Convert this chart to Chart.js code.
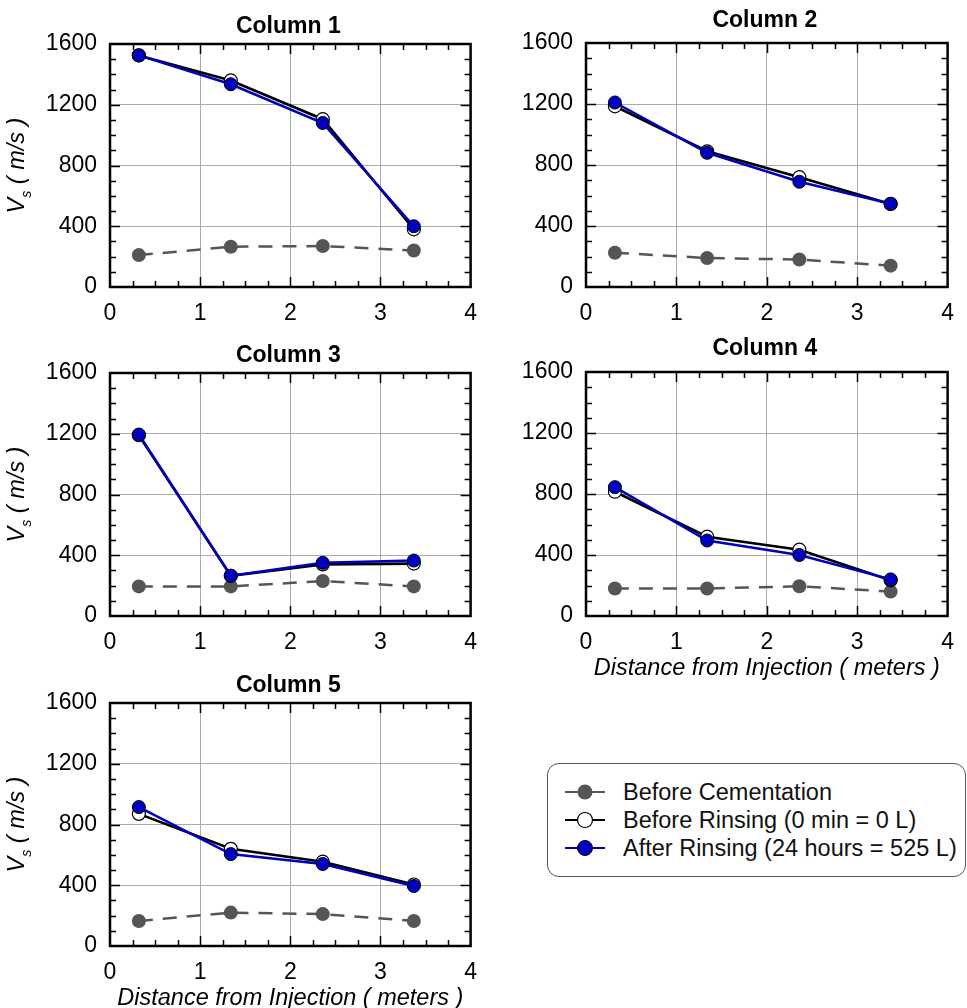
<!DOCTYPE html>
<html>
<head>
<meta charset="utf-8">
<script src="https://cdn.jsdelivr.net/npm/chart.js@4.4.1/dist/chart.umd.min.js"></script>
<style>
  body { margin: 0; background: #fff; width: 967px; height: 1008px; position: relative; overflow: hidden;
         font-family: "Liberation Sans", Arial, sans-serif; }
  canvas { position: absolute; }
  #legend { position: absolute; left: 547px; top: 763px; width: 419px; height: 114px;
            border: 1.5px solid #555; border-radius: 12px; box-sizing: border-box; }
  .row { position: absolute; left: 0; height: 28px; display: flex; align-items: center;
         font-size: 23.5px; color: #111; white-space: nowrap; }
  .row svg { margin-left: 17px; margin-right: 18px; }
</style>
</head>
<body>

<div id="legend">
  <div class="row" style="top:14px">
    <svg width="40" height="18"><line x1="0" y1="9" x2="40" y2="9" stroke="#555" stroke-width="2"/><circle cx="20" cy="9" r="7.5" fill="#555"/></svg>
    Before Cementation
  </div>
  <div class="row" style="top:42px">
    <svg width="40" height="18"><line x1="0" y1="9" x2="40" y2="9" stroke="#000" stroke-width="2"/><circle cx="20" cy="9" r="7.5" fill="#fff" stroke="#000" stroke-width="1.2"/></svg>
    Before Rinsing (0 min = 0 L)
  </div>
  <div class="row" style="top:70px">
    <svg width="40" height="18"><line x1="0" y1="9" x2="40" y2="9" stroke="#0000c0" stroke-width="2"/><circle cx="20" cy="9" r="7.5" fill="#0000c0" stroke="#000" stroke-width="1"/></svg>
    After Rinsing (24 hours = 525 L)
  </div>
</div>

<script>
// data
const columns = ['Column 1', 'Column 2', 'Column 3', 'Column 4', 'Column 5'];
const distance = [0.32, 1.34, 2.36, 3.37];   // meters from injection
const beforeCementation = [
  [210, 265, 270, 240],
  [225, 190, 180, 140],
  [195, 195, 230, 195],
  [180, 180, 195, 160],
  [165, 220, 210, 165],
];
const beforeRinsing = [
  [1525, 1360, 1105, 380],
  [1185, 890, 720, 545],
  [1190, 265, 340, 345],
  [815, 520, 435, 235],
  [870, 640, 555, 405],
];
const afterRinsing = [
  [1525, 1335, 1080, 400],
  [1210, 880, 690, 545],
  [1195, 265, 350, 365],
  [845, 495, 400, 240],
  [915, 605, 540, 395],
];

const FONT = '"Liberation Sans", Arial, sans-serif';
const BLUE = '#0000c0';

// canvas boxes and wanted plot areas (page px)
const boxes = [
  { left: 0,   top: 0,   w: 490, h: 330, L: 110, T: 44,  R: 476, B: 287, titleGap: 17, ylabel: true,  xlabel: false },
  { left: 480, top: 0,   w: 487, h: 330, L: 586, T: 43,  R: 951, B: 287, titleGap: 22, ylabel: false, xlabel: false },
  { left: 0,   top: 330, w: 490, h: 330, L: 110, T: 373, R: 476, B: 616, titleGap: 17, ylabel: true,  xlabel: false },
  { left: 480, top: 330, w: 487, h: 360, L: 586, T: 372, R: 951, B: 616, titleGap: 23, ylabel: false, xlabel: true },
  { left: 0,   top: 660, w: 490, h: 348, L: 110, T: 703, R: 476, B: 946, titleGap: 17, ylabel: true,  xlabel: true },
];

// inward ticks, frame, titles and axis labels
const decor = {
  id: 'decor',
  beforeDatasetsDraw(chart, args, opts) {
    const ctx = chart.ctx;
    const { left, right, top, bottom } = chart.chartArea;
    const xs = chart.scales.x, ys = chart.scales.y;
    ctx.save();
    ctx.strokeStyle = '#000';
    ctx.lineWidth = 1.5;
    ctx.beginPath();
    for (let k = 1; k < 16; k++) {
      const px = Math.round(xs.getPixelForValue(k * 0.25)) + 0.5;
      const len = k % 4 === 0 ? 10 : 6;
      ctx.moveTo(px, bottom); ctx.lineTo(px, bottom - len);
      ctx.moveTo(px, top); ctx.lineTo(px, top + len);
    }
    for (let k = 1; k < 16; k++) {
      const py = Math.round(ys.getPixelForValue(k * 100)) + 0.5;
      const len = k % 4 === 0 ? 10 : 6;
      ctx.moveTo(left, py); ctx.lineTo(left + len, py);
      ctx.moveTo(right, py); ctx.lineTo(right - len, py);
    }
    ctx.stroke();
    ctx.lineWidth = 2.5;
    ctx.strokeRect(left, top, right - left, bottom - top);
    ctx.restore();
  },
  afterDraw(chart, args, opts) {
    const ctx = chart.ctx;
    const { left, right, top, bottom } = chart.chartArea;
    ctx.save();
    ctx.fillStyle = '#000';
    ctx.textAlign = 'center';
    ctx.textBaseline = 'middle';
    ctx.font = 'bold 23px ' + FONT;
    ctx.fillText(opts.title, (left + right) / 2 - 2, top - opts.titleGap);

    if (opts.xlabel) {
      ctx.font = 'italic 23.5px ' + FONT;
      ctx.fillText('Distance from Injection ( meters )', (left + right) / 2, bottom + 52);
    }
    if (opts.ylabel) {
      ctx.translate(left - 86, (top + bottom) / 2);
      ctx.rotate(-Math.PI / 2);
      ctx.textAlign = 'left';
      ctx.textBaseline = 'alphabetic';
      const big = 'italic 23.5px ' + FONT, small = 'italic 14px ' + FONT;
      ctx.font = big;  const wV = ctx.measureText('V').width;
      const rest = ' ( m/s )', wR = ctx.measureText(rest).width;
      ctx.font = small; const wS = ctx.measureText('s').width;
      let x = -(wV + wS + wR) / 2;
      ctx.font = big;   ctx.fillText('V', x, 0); x += wV;
      ctx.font = small; ctx.fillText('s', x, 7); x += wS;
      ctx.font = big;   ctx.fillText(rest, x, 0);
    }
    ctx.restore();
  }
};

function makeChart(i) {
  const box = boxes[i];
  const canvas = document.createElement('canvas');
  canvas.width = box.w; canvas.height = box.h;
  canvas.style.left = box.left + 'px'; canvas.style.top = box.top + 'px';
  canvas.style.width = box.w + 'px'; canvas.style.height = box.h + 'px';
  document.body.appendChild(canvas);

  const pts = arr => distance.map((x, k) => ({ x, y: arr[k] }));

  new Chart(canvas, {
    type: 'line',
    data: {
      datasets: [
        {
          label: 'After Rinsing (24 hours = 525 L)', data: pts(afterRinsing[i]), order: 0,
          borderColor: BLUE, borderWidth: 2.5, backgroundColor: BLUE,
          pointRadius: 6.5, pointBorderColor: '#000', pointBorderWidth: 1, pointBackgroundColor: BLUE,
        },
        {
          label: 'Before Rinsing (0 min = 0 L)', data: pts(beforeRinsing[i]), order: 1,
          borderColor: '#000', borderWidth: 2.6, backgroundColor: '#fff',
          pointRadius: 6.5, pointBorderColor: '#000', pointBorderWidth: 1.2, pointBackgroundColor: '#fff',
        },
        {
          label: 'Before Cementation', data: pts(beforeCementation[i]), order: 2,
          borderColor: '#555', borderWidth: 2.5, borderDash: [14, 10], backgroundColor: '#555',
          pointRadius: 7, pointBorderWidth: 0, pointBackgroundColor: '#555',
        },
      ]
    },
    options: {
      responsive: false,
      animation: false,
      devicePixelRatio: 1,
      layout: { padding: { top: box.T - box.top, right: box.left + box.w - box.R, left: 0, bottom: 0 } },
      plugins: {
        legend: { display: false },
        tooltip: { enabled: false },
        decor: { title: columns[i], titleGap: box.titleGap, ylabel: box.ylabel, xlabel: box.xlabel },
      },
      scales: {
        x: {
          type: 'linear', min: 0, max: 4,
          ticks: { stepSize: 1, color: '#000', padding: 13, font: { family: FONT, size: 23 },
                   callback: v => String(v) },
          grid: { color: '#ababab', lineWidth: 1, drawTicks: false },
          border: { display: false },
          afterFit(s) { s.height = box.top + box.h - box.B; },
        },
        y: {
          type: 'linear', min: 0, max: 1600,
          ticks: { stepSize: 400, color: '#000', padding: 13, font: { family: FONT, size: 23 },
                   callback: v => String(v) },
          grid: { color: '#ababab', lineWidth: 1, drawTicks: false },
          border: { display: false },
          afterFit(s) { s.width = box.L - box.left; },
        },
      },
    },
    plugins: [decor],
  });
}

columns.forEach((c, i) => makeChart(i));
</script>
</body>
</html>
